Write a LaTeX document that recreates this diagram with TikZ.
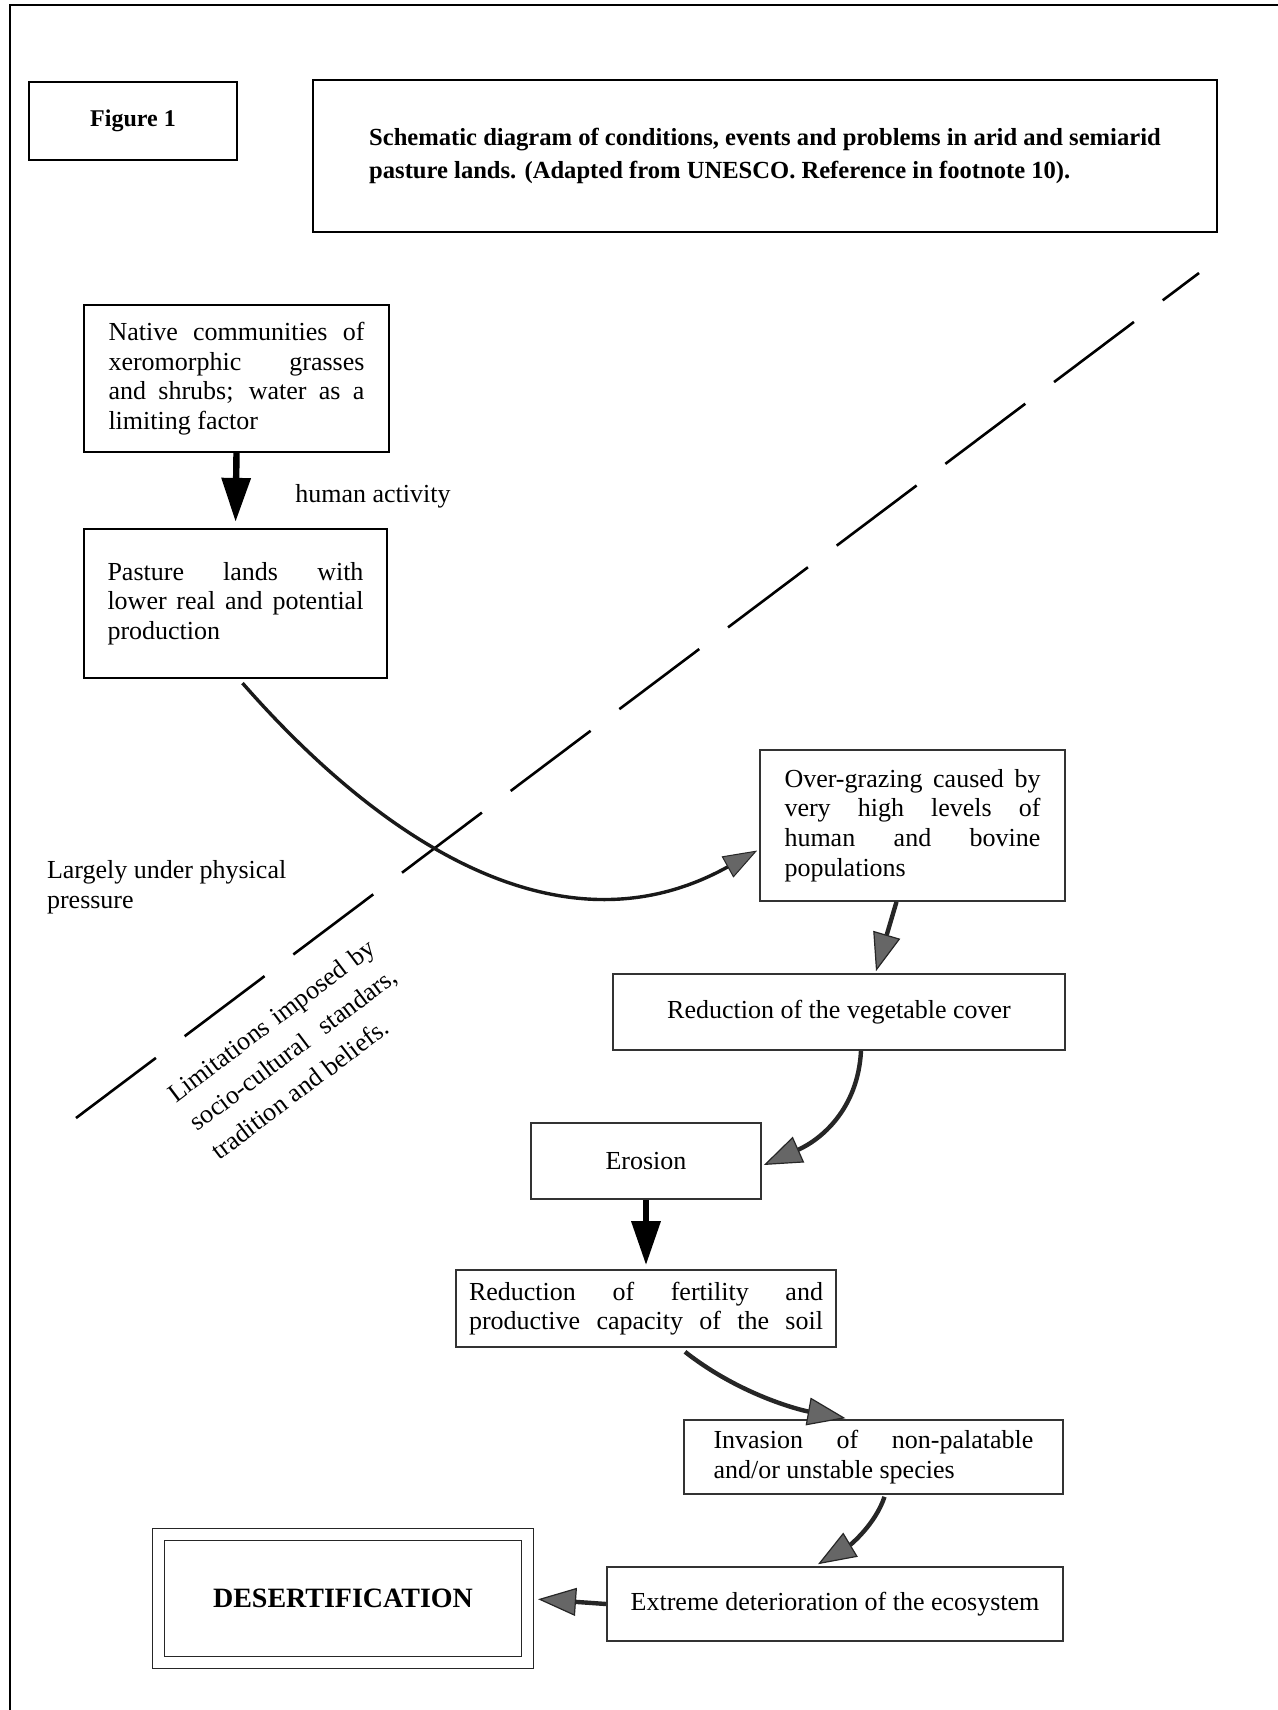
\documentclass[tikz,border=0pt]{standalone}
\usepackage{fontspec}
\setmainfont{Liberation Serif}
\usetikzlibrary{arrows.meta,calc}
\begin{document}
\begin{tikzpicture}[x=0.5pt,y=-0.5pt,
  txt/.style={font=\fontsize{13}{14.8}\selectfont},
  upbox/.style={draw=black, line width=1.1pt, rectangle, inner sep=0pt, txt},
  lowbox/.style={draw=black!80, line width=0.8pt, rectangle, inner sep=0pt, txt},
  bigarrow/.style={line width=3.2pt, -{Triangle[length=22pt,width=14pt]}},
  grayarrow/.style={line width=2.2pt, draw=black!85, -{Triangle[length=19pt,width=14pt,fill=black!60,color=black!85,line width=0.6pt]}},
  curvearrow/.style={line width=1.7pt, draw=black!90, -{Triangle[length=17pt,width=12pt,fill=black!60,color=black!85,line width=0.5pt]}},
]
\useasboundingbox (0,0) rectangle (1278,1710);

% page border
\coordinate (bl) at (10,1710);
\coordinate (tl) at (10,5);
\coordinate (tr) at (1278,5);
\draw[line width=1.2pt] (bl) -- (tl) -- (tr);

% dashed dividing line
\coordinate (dA) at (76,1118);
\coordinate (dB) at (1199,273);
\draw[line width=1.3pt, dash pattern=on 50pt off 18pt] (dA) -- (dB);

% header boxes
\node[upbox, minimum width=104pt, minimum height=39pt, font=\bfseries\fontsize{12}{14}\selectfont] (fig) at (133,121) {Figure 1};
\node[upbox, minimum width=452pt, minimum height=76pt, align=left, font=\bfseries\fontsize{12.3}{16.5}\selectfont] (title) at (765,156) {Schematic diagram of conditions, events and problems in arid and semiarid\\pasture lands. (Adapted from UNESCO. Reference in footnote 10).};

% upper boxes
\node[upbox, minimum width=152.5pt, minimum height=73.5pt, text width=128pt, align=justify] (native) at (236.5,378.5) {Native communities of\linebreak xeromorphic grasses\linebreak and shrubs; water as a\linebreak limiting factor};
\node[upbox, minimum width=151.5pt, minimum height=74.5pt, text width=128pt, align=justify] (pasture) at (235.5,603.5) {Pasture lands with\linebreak lower real and potential\linebreak production};

% lower boxes
\node[lowbox, minimum width=152.5pt, minimum height=75.5pt, text width=128pt, align=justify] (over) at (912.5,825.5) {Over-grazing caused by\linebreak very high levels of\linebreak human and bovine\linebreak populations};
\node[lowbox, minimum width=226pt, minimum height=38pt] (veg) at (839,1012) {Reduction of the vegetable cover};
\node[lowbox, minimum width=115pt, minimum height=38pt] (eros) at (646,1161) {Erosion};
\node[lowbox, minimum width=190pt, minimum height=38.5pt, align=left] (fert) at (646,1308.5) {\makebox[177pt][s]{Reduction of fertility and}\\\makebox[177pt][s]{productive capacity of the soil}};
\node[lowbox, minimum width=189.5pt, minimum height=37pt, text width=160pt, align=justify] (inv) at (873.5,1457) {Invasion of non-palatable\linebreak and/or unstable species};
\node[lowbox, minimum width=228pt, minimum height=37pt] (ext) at (835,1604) {Extreme deterioration of the ecosystem};
\node[draw=black!85, double, double distance=5.5pt, line width=0.6pt, rectangle, inner sep=0pt, minimum width=184.5pt, minimum height=64pt, font=\bfseries\fontsize{14}{16}\selectfont] (des) at (343,1598.5) {DESERTIFICATION};

% free labels
\node[txt] (human) at (373,496) {human activity};
\node[txt, align=left, anchor=west] (largely) at (40,887) {Largely under physical\\pressure};
\node[font=\fontsize{13}{18}\selectfont, text width=126pt, align=justify, inner sep=0pt, rotate=37] (limits) at (293,1049) {Limitations imposed by\linebreak socio-cultural standars,\linebreak tradition and beliefs.};

% connectors
\draw[bigarrow, shorten >=3pt] (native.south) -- (pasture.north);
\draw[curvearrow] ($(pasture.south)+(7,4)$) .. controls (380,840) and (560,960) .. ($(over.west)+(-2,25)$);
\draw[grayarrow] ($(over.south)+(-16,0)$) -- ($(veg.north)+(37,-2)$);
\draw[grayarrow] ($(veg.south)+(22,0)$) .. controls (858,1110) and (820,1140) .. ($(eros.east)+(2,4)$);
\draw[bigarrow, shorten >=2pt] (eros.south) -- (fert.north);
\draw[grayarrow] ($(fert.south)+(39,4)$) .. controls (740,1395) and (800,1410) .. ($(inv.north)+(-28,-1)$);
\draw[grayarrow] ($(inv.south)+(11,2)$) .. controls (875,1525) and (850,1545) .. ($(ext.north)+(-17,-2)$);
\draw[grayarrow, shorten >=5pt] (ext.west) -- (des.east);
\end{tikzpicture}
\end{document}
